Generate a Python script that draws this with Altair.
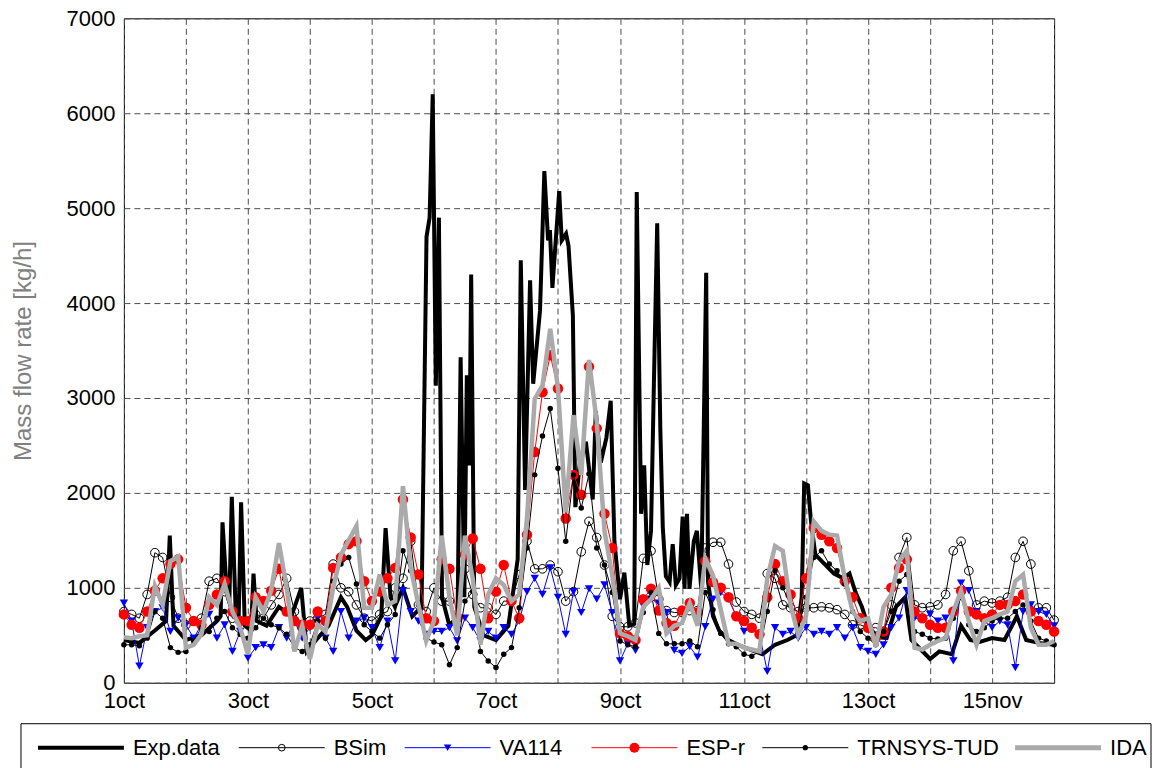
import altair as alt
import pandas as pd

FONT = "Liberation Sans"

# ---------------- data (3-hourly samples, days since 1 oct) ----------------
ida = [480, 470, 490, 500, 1020, 820, 1280, 1330,
       370, 400, 510, 900, 820, 1040, 750, 580,
       300, 900, 750, 970, 1470, 1000, 330, 600,
       250, 610, 540, 1000, 1350, 1500, 1650, 790,
       790, 1140, 820, 860, 2070, 1210, 820, 440,
       650, 1550, 900, 500, 1550, 1100, 400, 930,
       1100, 1030, 860, 930, 1730, 2990, 3130, 3730,
       3100, 1800, 2820, 2190, 3400, 2750, 1600, 1130,
       520, 490, 450, 800, 880, 1000, 520, 600,
       630, 840, 600, 1310, 1130, 770, 410, 410,
       370, 350, 330, 1100, 1440, 1390, 820, 500,
       700, 1700, 1600, 1560, 1550, 1100, 750, 650,
       680, 380, 800, 930, 1280, 1390, 370, 350,
       400, 440, 470, 750, 970, 650, 400, 650,
       680, 720, 750, 1070, 1140, 580, 400, 400,
       440]

esp_r = [720, 610, 580, 750, 970, 1100, 1250, 1300,
         790, 650, 610, 820, 930, 1070, 750, 650,
         650, 900, 860, 970, 1200, 750, 650, 610,
         610, 750, 650, 1210, 1320, 1460, 1490, 1070,
         860, 960, 1100, 1210, 1930, 1530, 1140, 680,
         650, 1300, 1200, 680, 1350, 1520, 1200, 680,
         960, 1240, 860, 680, 1560, 2430, 3060, 3450,
         3100, 1730, 2190, 1980, 3330, 2680, 1780, 1420,
         520, 490, 450, 880, 990, 760, 630, 600,
         760, 840, 740, 1280, 1060, 1000, 900, 700,
         650, 580, 510, 900, 1250, 1070, 930, 680,
         1100, 1630, 1560, 1490, 1420, 1070, 900, 680,
         580, 470, 540, 1000, 1210, 1300, 750, 680,
         610, 580, 580, 750, 970, 750, 720, 680,
         720, 820, 820, 860, 930, 750, 650, 610,
         540]

trnsys = [400, 400, 390, 470, 750, 680, 370, 320,
          330, 440, 580, 540, 680, 750, 580, 510,
          470, 580, 680, 610, 580, 510, 370, 330,
          400, 650, 470, 1070, 1250, 1320, 1040, 610,
          540, 470, 610, 720, 1390, 1180, 820, 470,
          430, 400, 190, 370, 860, 960, 330, 230,
          160, 300, 370, 790, 1420, 2190, 2600, 2890,
          2260, 1490, 2190, 1840, 2200, 1420, 1240, 950,
          440, 400, 380, 740, 950, 520, 410, 410,
          410, 440, 380, 950, 770, 520, 410, 380,
          300, 280, 330, 750, 1180, 1000, 820, 580,
          900, 1320, 1390, 1250, 1180, 1040, 750, 540,
          470, 400, 540, 750, 1070, 1140, 540, 510,
          470, 460, 470, 680, 900, 610, 540, 580,
          650, 680, 680, 750, 820, 650, 470, 440,
          400]

va114 = [840, 650, 175, 580, 750, 790, 540, 680,
         610, 470, 610, 720, 470, 610, 330, 540,
         260, 370, 400, 370, 580, 470, 650, 470,
         580, 680, 470, 330, 750, 470, 650, 680,
         580, 370, 650, 230, 970, 750, 650, 510,
         540, 540, 580, 440, 680, 580, 440, 540,
         470, 580, 510, 650, 960, 1100, 930, 1210,
         900, 510, 960, 740, 990, 880, 1030, 740,
         230, 410, 340, 810, 880, 840, 740, 340,
         310, 380, 270, 590, 880, 950, 880, 700,
         540, 580, 510, 120, 580, 510, 540, 470,
         580, 510, 540, 510, 580, 470, 580, 370,
         330, 300, 400, 580, 680, 970, 680, 680,
         720, 650, 680, 230, 1050, 970, 750, 650,
         580, 650, 610, 160, 750, 820, 750, 720,
         600]

bsim = [750, 720, 680, 930, 1370, 1320, 900, 680,
        610, 650, 680, 1070, 1100, 960, 680, 650,
        650, 720, 680, 820, 930, 1100, 750, 580,
        650, 680, 720, 1250, 1000, 960, 820, 680,
        650, 720, 750, 1000, 1100, 1490, 820, 750,
        1000, 860, 860, 680, 1200, 930, 790, 790,
        720, 860, 860, 1140, 1490, 1200, 1200, 1240,
        1170, 860, 960, 1380, 1700, 1530, 1240, 700,
        590, 590, 630, 1310, 1390, 880, 760, 740,
        740, 760, 760, 1420, 1480, 1480, 1250, 850,
        750, 720, 680, 1150, 1100, 820, 790, 750,
        790, 790, 800, 790, 770, 720, 610, 610,
        580, 580, 540, 820, 1320, 1530, 820, 790,
        800, 820, 930, 1390, 1490, 1180, 820, 860,
        840, 860, 900, 1320, 1490, 1250, 790, 790,
        660]

exp_t = [0.0, 0.25, 0.5, 0.68, 0.74, 0.8, 1.0,
         1.25, 1.5, 1.56, 1.59, 1.66, 1.7, 1.74,
         1.8, 1.85, 1.89, 1.95, 2.05, 2.09, 2.14,
         2.3, 2.5, 2.7, 2.86, 2.95, 3.1, 3.3,
         3.5, 3.6, 3.75, 3.9, 4.0, 4.15, 4.22,
         4.3, 4.37, 4.5, 4.65, 4.8, 4.88, 4.93,
         4.98, 5.03, 5.08, 5.13, 5.25, 5.38, 5.43,
         5.49, 5.53, 5.57, 5.6, 5.65, 5.8, 6.0,
         6.2, 6.35, 6.4, 6.47, 6.55, 6.6, 6.71,
         6.78, 6.84, 6.87, 6.91, 7.02, 7.06, 7.13,
         7.17, 7.24, 7.28, 7.35, 7.45, 7.56, 7.61,
         7.69, 7.78, 7.85, 7.91, 8.0, 8.07, 8.15,
         8.23, 8.27, 8.34, 8.39, 8.44, 8.5, 8.55,
         8.6, 8.65, 8.69, 8.74, 8.8, 8.85, 8.9,
         8.96, 9.01, 9.04, 9.08, 9.12, 9.19, 9.24,
         9.31, 9.39, 9.42, 9.5, 9.6, 9.75, 9.9,
         10.1, 10.3, 10.5, 10.7, 10.85, 10.93, 10.97,
         11.03, 11.08, 11.15, 11.3, 11.45, 11.6,
         11.7, 11.8, 11.9, 12.0, 12.15, 12.3, 12.45,
         12.6, 12.7, 12.85, 13.0, 13.15, 13.35, 13.5,
         13.65, 13.8, 14.0, 14.2, 14.4, 14.55, 14.75, 15.0]
exp_v = [450, 420, 550, 650, 1550, 600, 450,
         500, 650, 700, 1690, 950, 850, 1960,
         800, 650, 1900, 600, 550, 1150, 650,
         600, 800, 700, 1000, 330, 450, 600,
         900, 800, 550, 450, 500, 700, 1630,
         900, 800, 1000, 700, 800, 4700, 4900,
         6200, 3130, 4900, 900, 600, 700, 3430,
         900, 3240, 2290, 4300, 800, 500, 450,
         600, 1300, 4450, 2030, 4240, 3150, 3920,
         5390, 4660, 4770, 4160, 5180, 4660, 4730,
         4600, 3870, 1850, 2300, 2540, 1930, 2860,
         2320, 2580, 2970, 1490, 880, 1160, 600,
         620, 5170, 1780, 2290, 1240, 1600, 3260,
         4840, 2680, 1640, 1120, 1060, 1460, 1030,
         1100, 1750, 990, 1780, 990, 1490, 1600,
         990, 4320, 1060, 700, 550, 450, 400,
         350, 300, 400, 450, 500, 900, 2100,
         2080, 1700, 1350, 1250, 1150, 1100,
         1150, 950, 800, 600, 480, 470, 800,
         900, 450, 350, 250, 330, 300, 600,
         450, 430, 470, 450, 700, 450, 420, 400]

t_sim = [i * 0.125 for i in range(len(ida))]

tick_days = [0, 2, 4, 6, 8, 10, 12, 14]
tick_labels = ["1oct", "3oct", "5oct", "7oct", "9oct", "11oct", "13oct", "15nov"]
y_ticks = [0, 1000, 2000, 3000, 4000, 5000, 6000, 7000]
legend_names = ["Exp.data", "BSim", "VA114", "ESP-r", "TRNSYS-TUD", "IDA"]

# ---------------- layout ----------------
W, H = 931, 665
PAD = {"left": 116, "top": 10, "right": 99, "bottom": 85}

label_expr = "''"
for d, lab in reversed(list(zip(tick_days, tick_labels))):
    label_expr = f"datum.value == {d} ? '{lab}' : ({label_expr})"

x_enc = alt.X("t:Q",
              scale=alt.Scale(domain=[0, 15], nice=False, zero=False),
              axis=alt.Axis(values=list(range(16)), labelExpr=label_expr, title=None,
                            grid=True, ticks=False, domain=False, labelFlush=False,
                            labelOverlap=False, labelPadding=8))
y_enc = alt.Y("v:Q",
              scale=alt.Scale(domain=[0, 7000], nice=False),
              axis=alt.Axis(values=y_ticks, format="d", title="Mass flow rate [kg/h]",
                            grid=True, ticks=False, domain=False, labelPadding=9,
                            titleX=-100, titleY=H / 2, titleBaseline="middle",
                            titleColor="#808080", titleFontWeight="normal",
                            titleFontSize=24))

df_exp = pd.DataFrame({"t": exp_t, "v": exp_v})


def sim_df(vals):
    return pd.DataFrame({"t": t_sim, "v": vals})


exp_layer = alt.Chart(df_exp).mark_line(color="black", strokeWidth=4).encode(x=x_enc, y=y_enc)

bsim_line = alt.Chart(sim_df(bsim)).mark_line(color="black", strokeWidth=1).encode(x=x_enc, y=y_enc)
bsim_pts = alt.Chart(sim_df(bsim)).mark_point(shape="circle", filled=False, color="black",
                                               size=75, strokeWidth=1, opacity=1).encode(x=x_enc, y=y_enc)
va_line = alt.Chart(sim_df(va114)).mark_line(color="#0000ff", strokeWidth=1).encode(x=x_enc, y=y_enc)
va_pts = alt.Chart(sim_df(va114)).mark_point(shape="triangle-down", filled=True, color="#0000ff",
                                              size=70, opacity=1).encode(x=x_enc, y=y_enc)
esp_line = alt.Chart(sim_df(esp_r)).mark_line(color="#ff0000", strokeWidth=1).encode(x=x_enc, y=y_enc)
esp_pts = alt.Chart(sim_df(esp_r)).mark_point(shape="circle", filled=True, color="#ff0000",
                                               size=110, opacity=1).encode(x=x_enc, y=y_enc)
trn_line = alt.Chart(sim_df(trnsys)).mark_line(color="black", strokeWidth=1).encode(x=x_enc, y=y_enc)
trn_pts = alt.Chart(sim_df(trnsys)).mark_point(shape="circle", filled=True, color="black",
                                                size=30, opacity=1).encode(x=x_enc, y=y_enc)
ida_line = alt.Chart(sim_df(ida)).mark_line(color="#aaaaaa", strokeWidth=4.5).encode(x=x_enc, y=y_enc)

# ---------------- legend (pixel layout relative to plot origin) ----------------
ORIGIN_X, ORIGIN_Y = 124, 18
leg_start = [38, 239, 405, 592, 763, 1016]
LINE_LEN = 86
TEXT_GAP = 95
LEG_Y = 748 - ORIGIN_Y
one = alt.Data(values=[{"k": 0}])

styles = [
    dict(color="black", width=4, marker=None),
    dict(color="black", width=1, marker=("circle", False, 45)),
    dict(color="#0000ff", width=1, marker=("triangle-down", True, 55)),
    dict(color="#ff0000", width=1, marker=("circle", True, 100)),
    dict(color="black", width=1, marker=("circle", True, 28)),
    dict(color="#aaaaaa", width=5, marker=None),
]

legend_layers = [
    alt.Chart(one).mark_rect(fillOpacity=0, stroke="black", strokeWidth=1).encode(
        x=alt.value(21 - ORIGIN_X), x2=alt.value(1152 - ORIGIN_X),
        y=alt.value(724 - ORIGIN_Y), y2=alt.value(800 - ORIGIN_Y))
]
for name, xs, st in zip(legend_names, leg_start, styles):
    x0 = xs - ORIGIN_X
    legend_layers.append(
        alt.Chart(one).mark_rule(color=st["color"], strokeWidth=st["width"]).encode(
            x=alt.value(x0), x2=alt.value(x0 + LINE_LEN), y=alt.value(LEG_Y)))
    if st["marker"]:
        shp, filled, sz = st["marker"]
        legend_layers.append(
            alt.Chart(one).mark_point(shape=shp, filled=filled, color=st["color"], size=sz,
                                      opacity=1, strokeWidth=1).encode(
                x=alt.value(x0 + LINE_LEN / 2), y=alt.value(LEG_Y)))
    legend_layers.append(
        alt.Chart(one).mark_text(text=name, align="left", baseline="middle", fontSize=22,
                                 font=FONT, color="black").encode(
            x=alt.value(x0 + TEXT_GAP), y=alt.value(LEG_Y)))

chart = alt.layer(
    exp_layer, bsim_line, bsim_pts, va_line, va_pts, esp_line, esp_pts,
    trn_line, trn_pts, ida_line, *legend_layers
).properties(
    width=W, height=H, padding=PAD, autosize=alt.AutoSizeParams(type="none")
).configure_view(
    stroke="black", strokeWidth=1
).configure_axis(
    labelFont=FONT, titleFont=FONT, labelFontSize=22, labelColor="black",
    gridColor="#4d4d4d", gridDash=[6, 4], gridWidth=1, gridOpacity=1
)

chart.save("out.html", embed_options={"renderer": "svg", "actions": False})
